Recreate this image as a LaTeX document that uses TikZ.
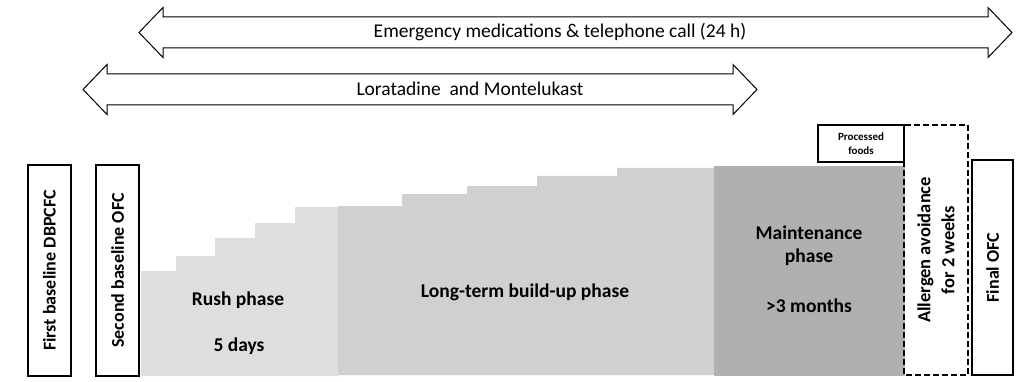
\documentclass[tikz,border=0pt]{standalone}
\usepackage{fontspec}
\setmainfont{Carlito}
\usepackage{tikz}
\definecolor{rushgray}{HTML}{DEDEDE}
\definecolor{buildgray}{HTML}{D0D0D0}
\definecolor{maintgray}{HTML}{B0B0B0}
% block arrow with two heads: left tip, right tip, middle height
\newcommand{\dblarrow}[3]{%
  \draw[arrowline] (#1,#3) -- (#1+24,#3-25) -- (#1+24,#3-15.5) -- (#2-24,#3-15.5)
    -- (#2-24,#3-25) -- (#2,#3) -- (#2-24,#3+25) -- (#2-24,#3+15.5)
    -- (#1+24,#3+15.5) -- (#1+24,#3+25) -- cycle;}
\newcommand{\bigfont}{\fontsize{19.5}{23}\selectfont}
\tikzset{
  arrowline/.style={draw=black, line width=1pt, fill=white},
  testbox/.style={draw, line width=2pt, rotate=90, inner sep=0pt,
    font=\bfseries\fontsize{18}{21}\selectfont},
  phaselabel/.style={font=\bfseries\bigfont, align=center},
}

\begin{document}
\begin{tikzpicture}[x=1pt,y=-1pt]
\useasboundingbox (0,0) rectangle (1016,382);
% treatment bars
\dblarrow{139}{1012}{32.5}
\node (emerg) at (560,32) {\bigfont Emergency medications \& telephone call (24 h)};
\dblarrow{83}{757}{89.5}
\node (lora) at (470,89) {\bigfont Loratadine\ \ and Montelukast};
% phases
\fill[rushgray] (141,376) -- (141,271) -- (176,271) -- (176,256) -- (215,256) -- (215,238)
  -- (255,238) -- (255,223) -- (295,223) -- (295,207) -- (338,207) -- (338,376) -- cycle;
\fill[buildgray] (338,375) -- (338,206) -- (402,206) -- (402,194) -- (467,194) -- (467,186)
  -- (537,186) -- (537,176) -- (617,176) -- (617,168) -- (714,168) -- (714,375) -- cycle;
\fill[maintgray] (714,166) rectangle (905,376);
\node[phaselabel] (rush) at (238,300) {Rush phase};
\node[phaselabel] (rushdays) at (239,346) {5 days};
\node[phaselabel] (build) at (525,292) {Long-term build-up phase};
\node[phaselabel] (maint) at (809,246) {Maintenance\\phase};
\node[phaselabel] (maintmonths) at (809,306) {>3 months};
% challenges
\node[testbox, minimum width=211pt, minimum height=43pt] (first) at (49.5,270.5) {First baseline DBPCFC};
\node[testbox, minimum width=211pt, minimum height=43pt] (second) at (117.5,270.5) {Second baseline OFC};
\node[draw, line width=2pt, fill=white, minimum width=86pt, minimum height=37pt, inner sep=0pt,
  align=center, font=\bfseries\fontsize{11}{14}\selectfont] (processed) at (861,143.5) {Processed\\foods};
\node[testbox, dash pattern=on 6pt off 3pt, minimum width=250pt, minimum height=64pt, align=center,
  font=\bfseries\fontsize{18.5}{24}\selectfont] (avoid) at (936,250) {Allergen avoidance\\for 2 weeks};
\node[testbox, minimum width=215pt, minimum height=41pt] (final) at (992.5,267.5) {Final OFC};
\end{tikzpicture}
\end{document}
